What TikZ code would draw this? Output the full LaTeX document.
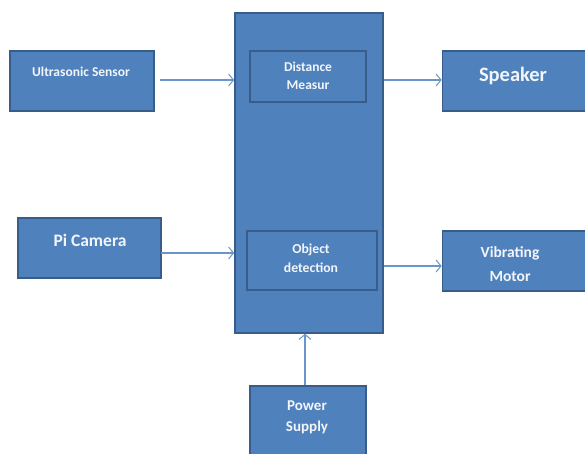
\documentclass[tikz,border=0pt]{standalone}
\usepackage{fontspec}
\setmainfont{Carlito}
\usetikzlibrary{arrows.meta}
\definecolor{boxfill}{HTML}{4F81BD}
\definecolor{boxline}{HTML}{385D8A}
\definecolor{arrowcol}{HTML}{6A95C8}
\definecolor{txt}{HTML}{F2F5FA}
\tikzset{
  blk/.style={draw=boxline, line width=1.6pt, fill=boxfill},
  lbl/.style={text=txt, align=center, inner sep=0pt},
  conn/.style={draw=arrowcol, line width=1.1pt, -{Straight Barb[length=5pt,width=12pt,line width=1pt]}}
}
\begin{document}
\begin{tikzpicture}[x=1pt,y=-1pt]
\useasboundingbox (0,0) rectangle (585,454);
% boxes
\node[blk, minimum width=144pt, minimum height=60pt] (us) at (82,81) {};
\node[blk, minimum width=148pt, minimum height=320pt] (main) at (309,173) {};
\node[blk, minimum width=116pt, minimum height=51pt] (dm) at (308,76.5) {};
\node[blk, minimum width=143pt, minimum height=60pt] (sp) at (514,81) {};
\node[blk, minimum width=143pt, minimum height=60pt] (pc) at (89.5,248) {};
\node[blk, minimum width=130pt, minimum height=59pt] (od) at (312,260.5) {};
\node[blk, minimum width=143pt, minimum height=60pt] (vm) at (514,261) {};
\node[blk, minimum width=116pt, minimum height=74pt] (ps) at (308,423) {};
% labels
\node[lbl, font=\bfseries\fontsize{13.5}{15}\selectfont] at (81,72) {Ultrasonic Sensor};
\node[lbl, font=\bfseries\fontsize{13.5}{18}\selectfont] at (308,76) {Distance\\Measur};
\node[lbl, font=\bfseries\fontsize{20.5}{22}\selectfont] at (513,76) {Speaker};
\node[lbl, font=\bfseries\fontsize{17.5}{19}\selectfont] at (90,240) {Pi Camera};
\node[lbl, font=\bfseries\fontsize{13.7}{19}\selectfont] at (311,258) {Object\\detection};
\node[lbl, font=\bfseries\fontsize{15.5}{24}\selectfont] at (510,264) {Vibrating\\Motor};
\node[lbl, font=\bfseries\fontsize{15}{21}\selectfont] at (307,417) {Power\\Supply};
% connectors
\coordinate (usE) at (160,80);
\draw[conn] (usE) -- (main.west |- usE);
\draw[conn] (main.east |- usE) -- (sp.west |- usE);
\coordinate (pcE) at (161,253);
\draw[conn] (pcE) -- (main.west |- pcE);
\draw[conn] (main.east |- 0,266) -- (vm.west |- 0,266);
\draw[conn] (ps.north -| 305,0) -- (main.south -| 305,0);
\end{tikzpicture}
\end{document}
